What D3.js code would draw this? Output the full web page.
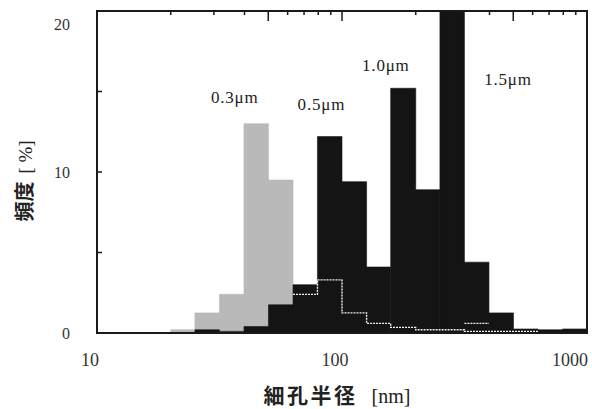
<!DOCTYPE html>
<html>
<head>
<meta charset="utf-8">
<script src="https://cdn.jsdelivr.net/npm/d3@7"></script>
<style>
  body { margin: 0; background: #fff; }
  svg { display: block; }
</style>
</head>
<body>
<div id="chart"></div>
<script>
// bin edges of the histogram [nm], 10 bins per decade
var binEdges = [10, 12.6, 15.8, 20, 25.1, 31.6, 39.8, 50.1, 63.1, 79.4, 100,
                126, 158, 200, 251, 316, 398, 501, 631, 794, 1000];

// frequency [%] per bin (one value per bin, 0 = nothing drawn)
var pct03 = [0, 0, 0, 0.2, 1.25, 2.4, 13.0, 9.5, 0, 0, 0, 0, 0, 0, 0, 0, 0, 0, 0, 0];
var pct05 = [0, 0, 0, 0, 0.2, 0.1, 0.4, 1.75, 3.0, 12.2, 9.4, 4.1, 0, 0, 0, 0, 0, 0, 0, 0];
var pct10 = [0, 0, 0, 0, 0, 0, 0, 0, 0, 0, 0, 0, 15.2, 8.9, 0, 0, 0, 0, 0, 0];
var pct15 = [0, 0, 0, 0, 0, 0, 0, 0, 0, 0, 0, 0, 0, 0, 20, 4.4, 1.25, 0.25, 0.2, 0.25];

// white step lines seen inside the black bars (null = no line)
var tail03 = [null, null, null, null, null, null, null, null, 2.4, 3.3, 1.25, 0.6,
              0.35, 0.2, 0.2, 0.1, 0.1, 0.1, null, null];
var tail05 = [null, null, null, null, null, null, null, null, null, null, null, null,
              null, null, null, 0.6, null, null, null, null];

var seriesNames = ["0.3\u03bcm", "0.5\u03bcm", "1.0\u03bcm", "1.5\u03bcm"];
var xTickValues = [10, 100, 1000];
var yTickValues = [0, 10, 20];

var width = 592, height = 409;
var margin = { left: 97, top: 11, right: 5, bottom: 76 };
var innerW = width - margin.left - margin.right;
var innerH = height - margin.top - margin.bottom;

var svg = d3.select("#chart").append("svg")
    .attr("width", width)
    .attr("height", height);

var g = svg.append("g")
    .attr("transform", "translate(" + margin.left + "," + margin.top + ")");

var x = d3.scaleLog().domain([10, 1000]).range([0, innerW]);
var y = d3.scaleLinear().domain([0, 20]).range([innerH, 0]);

// points for a step curve: lower edge of every bin, plus the upper edge of the last one
function stepPoints(vals) {
    var pts = [];
    vals.forEach(function (v, i) {
        if (v == null) return;
        pts.push([binEdges[i], v]);
        if (i + 1 >= vals.length || vals[i + 1] == null) pts.push([binEdges[i + 1], v]);
    });
    return pts;
}

var area = d3.area()
    .x(function (d) { return x(d[0]); })
    .y0(y(0))
    .y1(function (d) { return y(d[1]); })
    .curve(d3.curveStepAfter);

function drawBars(vals, fill) {
    g.append("path")
        .attr("d", area(stepPoints(vals)))
        .attr("fill", fill)
        .attr("stroke", fill)
        .attr("stroke-width", 0.6);
}

drawBars(pct03, "#b9b9b9");
drawBars(pct05, "#141414");
drawBars(pct10, "#141414");
drawBars(pct15, "#141414");

// white step outline
var step = d3.line()
    .x(function (d) { return x(d[0]); })
    .y(function (d) { return y(d[1]); })
    .curve(d3.curveStepAfter);

[tail03, tail05].forEach(function (vals) {
    g.append("path")
        .attr("d", step(stepPoints(vals)))
        .attr("fill", "none")
        .attr("stroke", "#f2f2f2")
        .attr("stroke-width", 1.4)
        .attr("stroke-dasharray", "2,1");
});

// frame: four sides
var frame = g.append("g")
    .attr("stroke", "#1a1a1a")
    .attr("stroke-width", 2)
    .attr("stroke-linecap", "square");
frame.append("line").attr("x1", 0).attr("x2", innerW).attr("y1", y(20)).attr("y2", y(20));
frame.append("line").attr("x1", 0).attr("x2", innerW).attr("y1", y(0)).attr("y2", y(0));
frame.append("line").attr("x1", x(10)).attr("x2", x(10)).attr("y1", 0).attr("y2", innerH);
frame.append("line").attr("x1", x(1000)).attr("x2", x(1000)).attr("y1", 0).attr("y2", innerH);

// top ticks (inward)
var topTicks = [];
[10, 100].forEach(function (dec) {
    for (var m = 2; m <= 9; m++) topTicks.push(dec * m);
});
topTicks.push(100);
g.append("g").selectAll("line")
    .data(topTicks)
    .enter().append("line")
    .attr("x1", function (d) { return x(d); })
    .attr("x2", function (d) { return x(d); })
    .attr("y1", 0)
    .attr("y2", function (d) {
        var m = Math.round(d / Math.pow(10, Math.floor(Math.log10(d) + 1e-9)));
        return (m === 5 || m === 1) ? 10 : 4;
    })
    .attr("stroke", "#1a1a1a")
    .attr("stroke-width", 1.5);

// left ticks (inward)
g.append("g").selectAll("line")
    .data([5, 10, 15])
    .enter().append("line")
    .attr("x1", 0).attr("x2", 5)
    .attr("y1", function (d) { return y(d); })
    .attr("y2", function (d) { return y(d); })
    .attr("stroke", "#1a1a1a")
    .attr("stroke-width", 1.5);

var serif = "'Liberation Serif', 'Times New Roman', serif";
var cjk = "'Noto Sans CJK JP', 'Noto Sans CJK SC', sans-serif";

// y tick labels
g.append("g").selectAll("text")
    .data(yTickValues)
    .enter().append("text")
    .attr("x", -27)
    .attr("y", function (d) { return Math.max(y(d), 13); })
    .attr("dy", "0.35em")
    .attr("text-anchor", "end")
    .attr("font-family", serif)
    .attr("font-size", 16)
    .attr("fill", "#333")
    .text(function (d) { return d; });

// x tick labels
g.append("g").selectAll("text")
    .data(xTickValues)
    .enter().append("text")
    .attr("x", function (d, i) { return i === xTickValues.length - 1 ? x(d) + 1 : x(d) - 7; })
    .attr("y", innerH + 33)
    .attr("text-anchor", function (d, i) { return i === xTickValues.length - 1 ? "end" : "middle"; })
    .attr("font-family", serif)
    .attr("font-size", 18)
    .attr("fill", "#333")
    .text(function (d) { return d; });

// series labels, anchored in data units
var labelAt = [[36.5, 14.3], [82.4, 13.85], [151, 16.3], [476, 15.4]];
g.append("g").selectAll("text")
    .data(seriesNames)
    .enter().append("text")
    .attr("x", function (d, i) { return x(labelAt[i][0]); })
    .attr("y", function (d, i) { return y(labelAt[i][1]); })
    .attr("text-anchor", "middle")
    .attr("font-family", serif)
    .attr("font-size", 17)
    .attr("letter-spacing", 0.8)
    .attr("fill", "#222")
    .text(function (d) { return d; });

// axis titles
var xt = svg.append("text")
    .attr("x", 337)
    .attr("y", 403)
    .attr("text-anchor", "middle")
    .attr("fill", "#222");
xt.append("tspan")
    .attr("font-family", cjk)
    .attr("font-weight", "bold")
    .attr("font-size", 21)
    .attr("letter-spacing", 2.5)
    .text("細孔半径");
xt.append("tspan")
    .attr("dx", 14)
    .attr("font-family", serif)
    .attr("font-size", 20)
    .text("[nm]");

var yt = svg.append("text")
    .attr("transform", "translate(32,181) rotate(-90)")
    .attr("text-anchor", "middle")
    .attr("fill", "#222");
yt.append("tspan")
    .attr("font-family", cjk)
    .attr("font-weight", "bold")
    .attr("font-size", 20)
    .text("頻度");
yt.append("tspan")
    .attr("dx", 8)
    .attr("font-family", serif)
    .attr("font-size", 19)
    .text("[ %]");
</script>
</body>
</html>
